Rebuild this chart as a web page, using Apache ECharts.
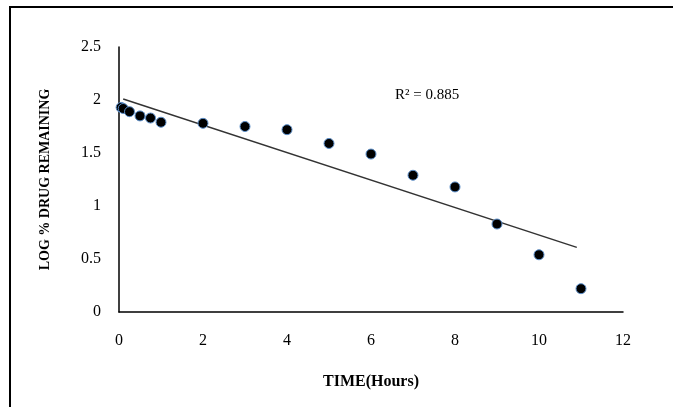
<!DOCTYPE html>
<html>
<head>
<meta charset="utf-8">
<script src="https://cdn.jsdelivr.net/npm/echarts@6/dist/echarts.min.js"></script>
<style>
  html, body { margin: 0; padding: 0; background: #fff; }
  #chart { width: 673px; height: 407px; }
</style>
</head>
<body>
<div id="chart"></div>
<script>
// Data
var timeHours = [0.05, 0.1, 0.25, 0.5, 0.75, 1, 2, 3, 4, 5, 6, 7, 8, 9, 10, 11];
var logRemaining = [1.93, 1.92, 1.89, 1.85, 1.83, 1.79, 1.78, 1.75, 1.72, 1.59, 1.49, 1.29, 1.18, 0.83, 0.54, 0.22];

// Linear trendline end points (Excel style)
var trendX = [0.1, 10.9];
var trendY = [2.01, 0.61];
var rSquaredText = 'R\u00b2 = 0.885';

var serif = '"Liberation Serif", "DejaVu Serif", serif';

var points = timeHours.map(function (t, i) { return [t, logRemaining[i]]; });
var trend = trendX.map(function (t, i) { return [t, trendY[i]]; });

var chart = echarts.init(document.getElementById('chart'));

chart.setOption({
    animation: false,
    backgroundColor: '#fff',
    textStyle: { fontFamily: serif },

    grid: { left: 119, right: 50, top: 47, bottom: 95 },

    // Outer frame and R² label
    graphic: [
        {
            type: 'rect',
            shape: { x: 10, y: 7, width: 800, height: 500 },
            style: { fill: 'none', stroke: '#000', lineWidth: 2 }
        },
        {
            type: 'text',
            left: 395,
            top: 88,
            style: { text: rSquaredText, font: '15px ' + serif, fill: '#000' }
        }
    ],

    xAxis: {
        type: 'value',
        min: 0,
        max: 12,
        interval: 2,
        name: 'TIME(Hours)',
        nameLocation: 'middle',
        nameGap: 62,
        nameTextStyle: { fontFamily: serif, fontWeight: 'bold', fontSize: 16, color: '#000' },
        axisLine: { lineStyle: { color: '#000', width: 1.5 } },
        axisTick: { show: false },
        axisLabel: { margin: 21, fontSize: 16, color: '#000', fontFamily: serif },
        splitLine: { show: false }
    },

    yAxis: {
        type: 'value',
        min: 0,
        max: 2.5,
        interval: 0.5,
        name: 'LOG % DRUG REMAINING',
        nameLocation: 'middle',
        nameGap: 67,
        nameTextStyle: { fontFamily: serif, fontWeight: 'bold', fontSize: 14, color: '#000' },
        axisLine: { show: true, lineStyle: { color: '#000', width: 1.5 } },
        axisTick: { show: false },
        axisLabel: { margin: 18, fontSize: 16, color: '#000', fontFamily: serif },
        splitLine: { show: false }
    },

    series: [
        {
            name: 'Trendline',
            type: 'line',
            data: trend,
            showSymbol: false,
            silent: true,
            lineStyle: { color: '#333', width: 1.5 },
            z: 2
        },
        {
            name: 'LOG % DRUG REMAINING',
            type: 'scatter',
            data: points,
            symbolSize: 10,
            itemStyle: {
                color: '#000',
                opacity: 1,
                borderColor: '#5b8ec9',
                borderWidth: 1
            },
            z: 3
        }
    ]
});
</script>
</body>
</html>
